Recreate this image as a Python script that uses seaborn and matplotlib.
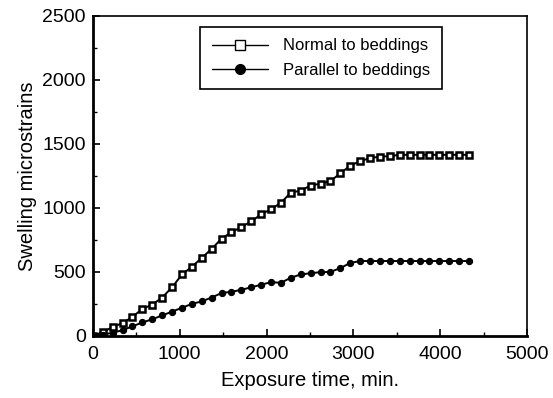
import pandas as pd
import matplotlib.pyplot as plt
import seaborn as sns
from matplotlib.ticker import MultipleLocator

# Exposure time (min) and swelling readings
time_min = [0, 114, 228, 342, 456, 570, 684, 798, 912, 1026, 1140, 1254, 1368,
            1482, 1596, 1710, 1824, 1938, 2052, 2166, 2280, 2394, 2508, 2622,
            2736, 2850, 2964, 3078, 3192, 3306, 3420, 3534, 3648, 3762, 3876,
            3990, 4104, 4218, 4332]
normal = [0, 30, 70, 100, 150, 210, 245, 300, 380, 480, 540, 610, 680,
          760, 810, 850, 895, 950, 990, 1040, 1120, 1135, 1175, 1190,
          1210, 1270, 1330, 1365, 1390, 1400, 1405, 1415, 1415, 1415, 1415,
          1415, 1415, 1415, 1415]
parallel = [0, 10, 25, 45, 75, 105, 130, 160, 190, 220, 250, 270, 300,
            335, 345, 360, 380, 400, 420, 415, 455, 480, 490, 498,
            500, 530, 570, 585, 585, 585, 585, 585, 585, 585, 585,
            585, 585, 585, 585]
series_names = ['Normal to beddings', 'Parallel to beddings']

df = pd.DataFrame({
    'time': time_min * 2,
    'strain': normal + parallel,
    'series': [series_names[0]] * len(time_min) + [series_names[1]] * len(time_min),
})

sns.set_style('ticks')
plt.rcParams['font.family'] = ['Liberation Sans', 'DejaVu Sans']

fig = plt.figure(figsize=(5.53, 3.98), dpi=100)
ax = fig.add_axes([0.168, 0.156, 0.785, 0.804])

sns.lineplot(data=df, x='time', y='strain', hue='series', style='series',
             markers={series_names[0]: 's', series_names[1]: 'o'}, dashes=False,
             palette={series_names[0]: 'black', series_names[1]: 'black'},
             linewidth=1.4, markersize=4.5, ax=ax, legend=False)

# open squares for the normal series (they print almost solid in the scan)
ln_normal, ln_parallel = ax.get_lines()[:2]
ln_normal.set_markerfacecolor('white')
ln_normal.set_markeredgecolor('black')
ln_normal.set_markeredgewidth(1.8)
ln_parallel.set_markerfacecolor('black')
ln_parallel.set_markeredgecolor('black')

ax.set_xlim(0, 5000)
ax.set_ylim(0, 2500)
ax.xaxis.set_major_locator(MultipleLocator(1000))
ax.xaxis.set_minor_locator(MultipleLocator(500))
ax.yaxis.set_major_locator(MultipleLocator(500))
ax.yaxis.set_minor_locator(MultipleLocator(250))
ax.tick_params(which='both', direction='in', color='black', labelcolor='black',
               labelsize=14)
ax.tick_params(axis='x', pad=7)
ax.tick_params(axis='y', pad=5)
ax.tick_params(which='major', length=5, width=1.2)
ax.tick_params(which='minor', length=3, width=1)

for side in ['left', 'bottom']:
    ax.spines[side].set_linewidth(2)
for side in ['top', 'right']:
    ax.spines[side].set_linewidth(1.2)
for s in ax.spines.values():
    s.set_color('black')

ax.set_xlabel('Exposure time, min.', fontsize=14.5, labelpad=6, color='black')
ax.set_ylabel('Swelling microstrains', fontsize=14.5, labelpad=4, color='black')

# legend with open square / filled circle handles
h1, = ax.plot([], [], color='black', marker='s', markerfacecolor='white',
              markeredgecolor='black', markersize=7, linewidth=1)
h2, = ax.plot([], [], color='black', marker='o', markerfacecolor='black',
              markersize=7, linewidth=1)
leg = ax.legend([h1, h2], series_names, loc='upper left',
                bbox_to_anchor=(0.247, 0.966), borderaxespad=0,
                fontsize=12, handlelength=3.4, fancybox=False, framealpha=1,
                borderpad=0.7, labelspacing=0.55, handletextpad=0.9)
leg.get_frame().set_edgecolor('black')
leg.get_frame().set_linewidth(1.2)
for t in leg.get_texts():
    t.set_color('black')

fig.savefig('out.png', dpi=100)
